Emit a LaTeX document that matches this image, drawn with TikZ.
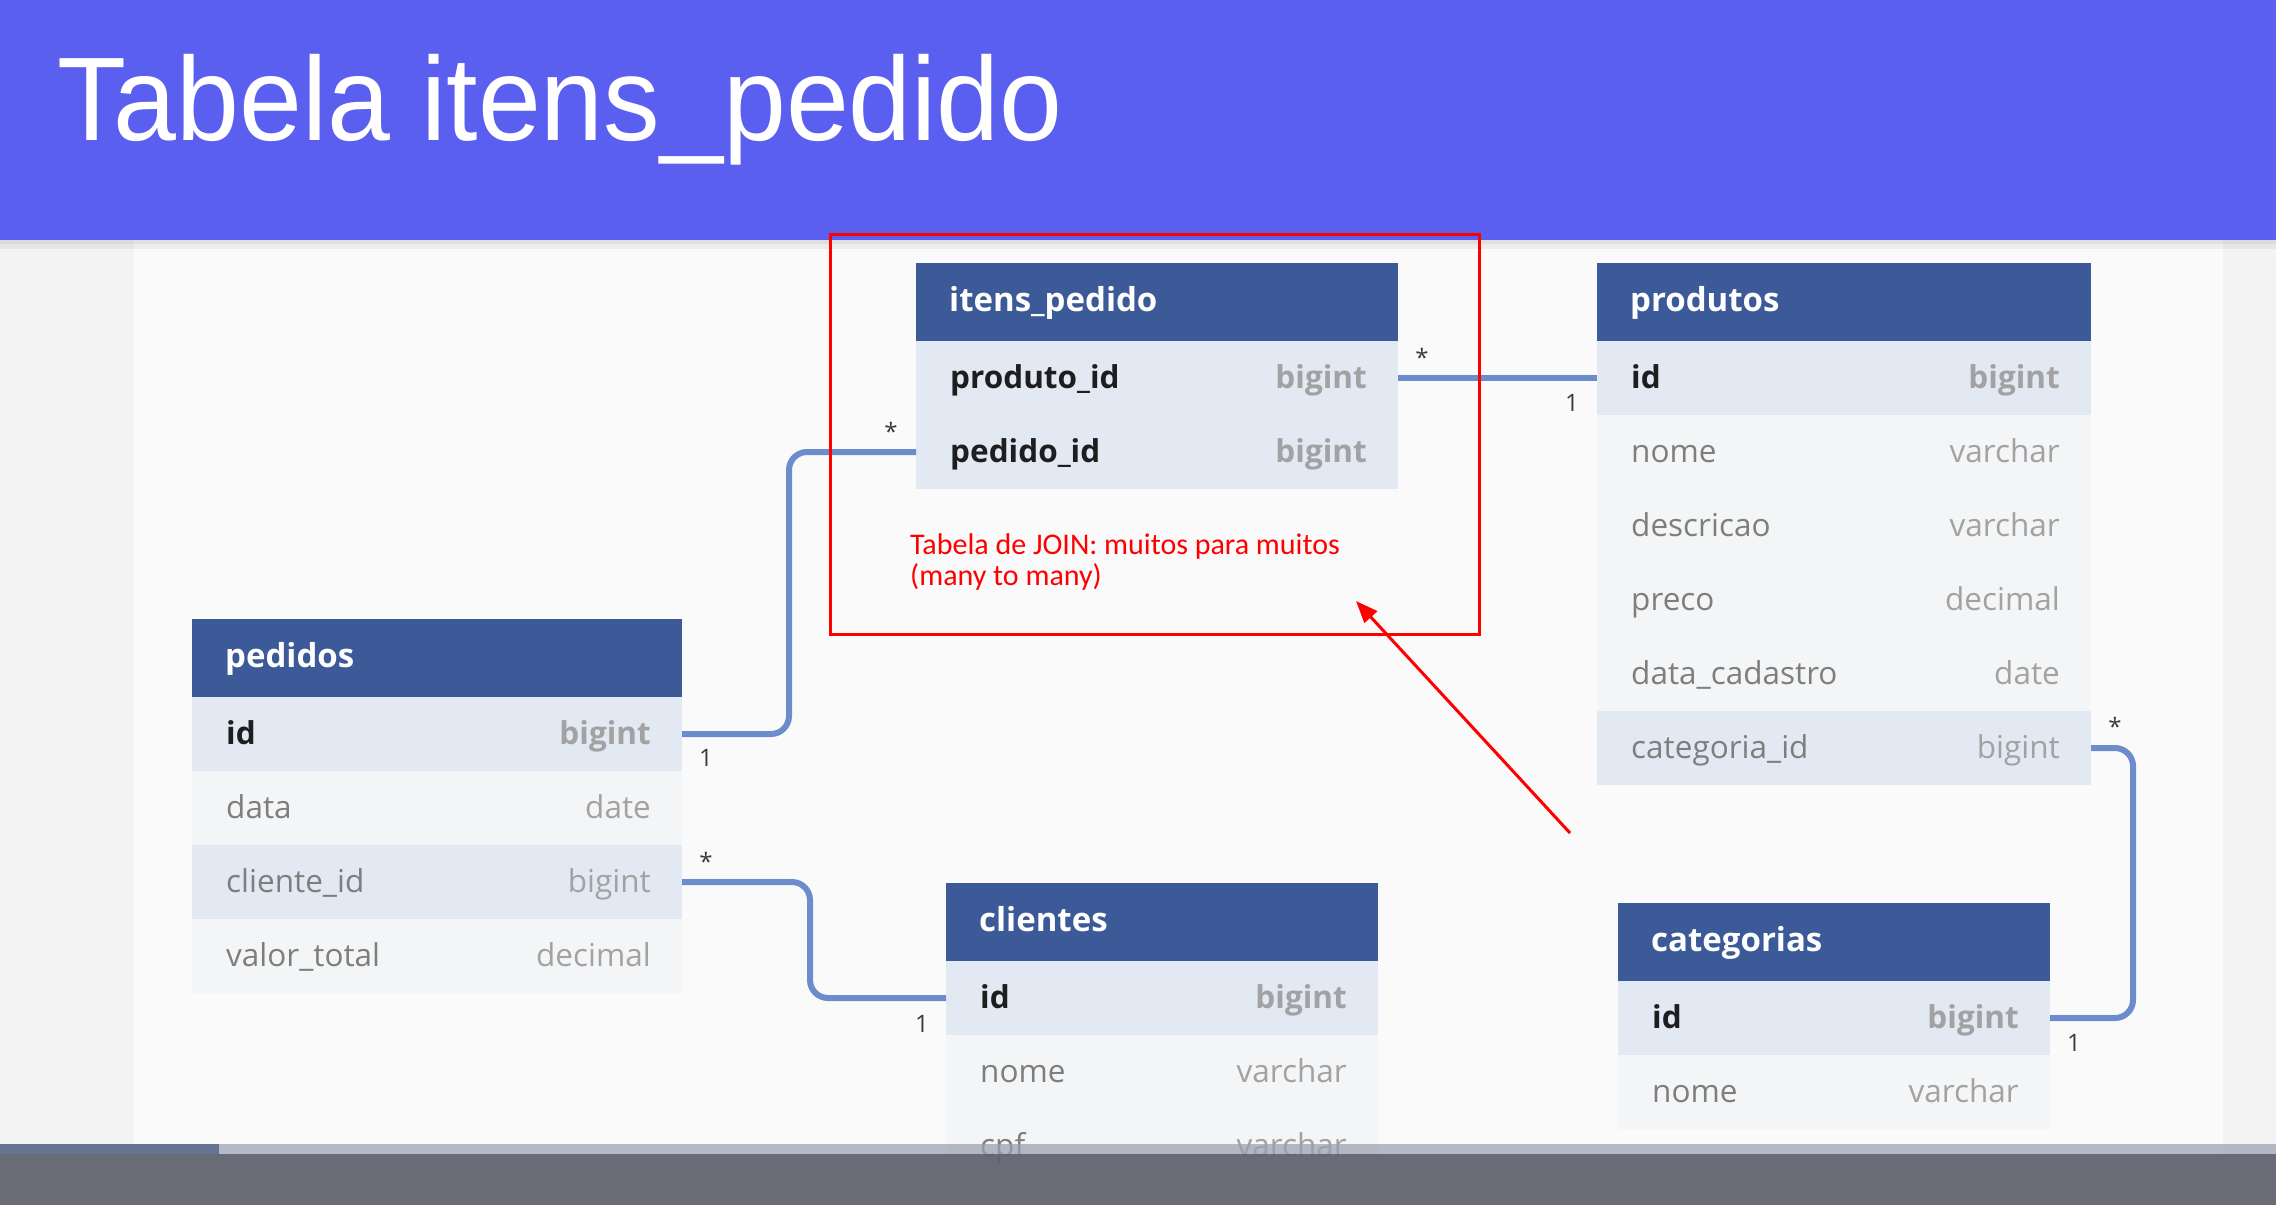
\documentclass[tikz,border=0pt]{standalone}
\usepackage{fontspec}
\setmainfont{Open Sans}
\newfontfamily\titlefont{Liberation Sans}
\newfontfamily\notefont{Carlito}
\usetikzlibrary{arrows.meta}

\definecolor{bannerblue}{HTML}{5B5FF0}
\definecolor{tblhead}{HTML}{3D5A98}
\definecolor{rowhi}{HTML}{E2E9F3}
\definecolor{rowlo}{HTML}{F4F5F6}
\definecolor{canvasbg}{HTML}{FAFAFA}
\definecolor{marginbg}{HTML}{F3F3F4}
\definecolor{linkblue}{HTML}{6D8CCB}
\definecolor{keytxt}{HTML}{1E1E1E}
\definecolor{fieldtxt}{HTML}{7E7E7E}
\definecolor{typetxt}{HTML}{A2A2A2}
\definecolor{cardtxt}{HTML}{3A3A3A}
\definecolor{noteRed}{HTML}{FF0000}
\definecolor{playerdark}{HTML}{5F626D}
\definecolor{playerlight}{HTML}{9AA0B2}
\definecolor{playerprog}{HTML}{4A597E}

\tikzset{
  headbox/.style={fill=tblhead, draw=none, anchor=north west, inner sep=0pt,
    outer sep=0pt, minimum height=78pt},
  rowkey/.style={fill=rowhi, draw=none, anchor=north west, inner sep=0pt,
    outer sep=0pt, minimum height=74pt},
  rowplain/.style={fill=rowlo, draw=none, anchor=north west, inner sep=0pt,
    outer sep=0pt, minimum height=74pt},
  headtxt/.style={anchor=base west, inner sep=0pt, text=white,
    font=\fontsize{33}{40}\selectfont\bfseries},
  keyname/.style={anchor=base west, inner sep=0pt, text=keytxt,
    font=\fontsize{31.5}{38}\selectfont\bfseries},
  fieldname/.style={anchor=base west, inner sep=0pt, text=fieldtxt,
    font=\fontsize{31.5}{38}\selectfont},
  keytype/.style={anchor=base east, inner sep=0pt, text=typetxt,
    font=\fontsize{31.5}{38}\selectfont\bfseries},
  fieldtype/.style={anchor=base east, inner sep=0pt, text=typetxt,
    font=\fontsize{31.5}{38}\selectfont},
  conn/.style={draw=linkblue, line width=6pt, rounded corners=18pt},
  card/.style={anchor=base, inner sep=0pt, text=cardtxt,
    font=\fontsize{24}{28}\selectfont},
  notebox/.style={draw=noteRed, line width=3pt, anchor=north west,
    inner sep=0pt, fill=none},
  notetext/.style={anchor=base west, inner sep=0pt, text=noteRed, align=left,
    font=\notefont\fontsize{30}{30.5}\selectfont},
  notearrow/.style={draw=noteRed, line width=3pt,
    -{Triangle[length=22pt,width=17pt]}},
}

% table header: name, x, y, width, title
\newcommand\dbtitle[5]{%
  \node[headbox, minimum width=#4pt] (#1) at (#2,#3) {};
  \node[headtxt] (#1-label) at ([xshift=33pt,yshift=-9pt]#1.west) {#5};
}
% table row: name, x, y, width, row style, name style, field, type style, type
\newcommand\dbfield[9]{%
  \node[#5, minimum width=#4pt] (#1) at (#2,#3) {};
  \node[#6] (#1-name) at ([xshift=34pt,yshift=-10pt]#1.west) {#7};
  \node[#8] (#1-type) at ([xshift=-31pt,yshift=-10pt]#1.east) {#9};
}

\begin{document}
\begin{tikzpicture}[x=1pt, y=-1pt]
  \useasboundingbox (0,0) rectangle (2276,1205);

  % page background, canvas and title banner
  \fill[marginbg] (0,0) rectangle (2276,1205);
  \fill[canvasbg] (134,240) rectangle (2223,1205);
  \fill[black, opacity=0.10] (0,240) rectangle (2276,244);
  \fill[black, opacity=0.05] (0,244) rectangle (2276,249);
  \fill[bannerblue] (0,0) rectangle (2276,240);
  \node[anchor=base west, inner sep=0pt, text=white,
        font=\titlefont\fontsize{119}{130}\selectfont] (title) at (57,140)
        {\scalebox{0.95}[1]{Tabela itens\_pedido}};

  % itens_pedido
  \dbtitle{ip}{916}{263}{482}{itens\_pedido}
  \dbfield{ip-prod}{916}{341}{482}{rowkey}{keyname}{produto\_id}{keytype}{bigint}
  \dbfield{ip-ped}{916}{415}{482}{rowkey}{keyname}{pedido\_id}{keytype}{bigint}

  % produtos
  \dbtitle{prod}{1597}{263}{494}{produtos}
  \dbfield{prod-id}{1597}{341}{494}{rowkey}{keyname}{id}{keytype}{bigint}
  \dbfield{prod-nome}{1597}{415}{494}{rowplain}{fieldname}{nome}{fieldtype}{varchar}
  \dbfield{prod-desc}{1597}{489}{494}{rowplain}{fieldname}{descricao}{fieldtype}{varchar}
  \dbfield{prod-preco}{1597}{563}{494}{rowplain}{fieldname}{preco}{fieldtype}{decimal}
  \dbfield{prod-data}{1597}{637}{494}{rowplain}{fieldname}{data\_cadastro}{fieldtype}{date}
  \dbfield{prod-cat}{1597}{711}{494}{rowkey}{fieldname}{categoria\_id}{fieldtype}{bigint}

  % pedidos
  \dbtitle{ped}{192}{619}{490}{pedidos}
  \dbfield{ped-id}{192}{697}{490}{rowkey}{keyname}{id}{keytype}{bigint}
  \dbfield{ped-data}{192}{771}{490}{rowplain}{fieldname}{data}{fieldtype}{date}
  \dbfield{ped-cli}{192}{845}{490}{rowkey}{fieldname}{cliente\_id}{fieldtype}{bigint}
  \dbfield{ped-val}{192}{919}{490}{rowplain}{fieldname}{valor\_total}{fieldtype}{decimal}

  % clientes
  \dbtitle{cli}{946}{883}{432}{clientes}
  \dbfield{cli-id}{946}{961}{432}{rowkey}{keyname}{id}{keytype}{bigint}
  \dbfield{cli-nome}{946}{1035}{432}{rowplain}{fieldname}{nome}{fieldtype}{varchar}
  \dbfield{cli-cpf}{946}{1109}{432}{rowplain}{fieldname}{cpf}{fieldtype}{varchar}

  % categorias
  \dbtitle{cat}{1618}{903}{432}{categorias}
  \dbfield{cat-id}{1618}{981}{432}{rowkey}{keyname}{id}{keytype}{bigint}
  \dbfield{cat-nome}{1618}{1055}{432}{rowplain}{fieldname}{nome}{fieldtype}{varchar}

  % relationships
  \draw[conn] (ped-id.east) -- ++(107,0) |- (ip-ped.west);
  \draw[conn] (ip-prod.east) -- (prod-id.west);
  \draw[conn] (ped-cli.east) -- ++(128,0) |- (cli-id.west);
  \draw[conn] (prod-cat.east) -- ++(42,0) |- (cat-id.east);

  % cardinalities
  \node[card] (c-ip-ped)   at (891,440)  {*};
  \node[card] (c-ped-id)   at (706,766)  {1};
  \node[card] (c-ip-prod)  at (1422,366) {*};
  \node[card] (c-prod-id)  at (1572,411) {1};
  \node[card] (c-ped-cli)  at (706,870)  {*};
  \node[card] (c-cli-id)   at (922,1032) {1};
  \node[card] (c-prod-cat) at (2115,735) {*};
  \node[card] (c-cat-id)   at (2074,1051) {1};

  % annotation on the join table (base anchor sits on the last line)
  \node[notebox, minimum width=649pt, minimum height=400pt] (joinbox) at (829,233) {};
  \node[notetext] (joinnote) at (910,585)
        {Tabela de JOIN: muitos para muitos\\(many to many)};
  \coordinate (noteTail) at (1570,833);
  \coordinate (noteTip) at (1356,601);
  \draw[notearrow] (noteTail) -- (noteTip);

  % player bar along the bottom edge
  \fill[playerlight, opacity=0.72] (0,1144) rectangle (2276,1154);
  \fill[playerprog, opacity=0.72] (0,1144) rectangle (219,1154);
  \fill[playerdark, opacity=0.93] (0,1154) rectangle (2276,1205);
\end{tikzpicture}
\end{document}
